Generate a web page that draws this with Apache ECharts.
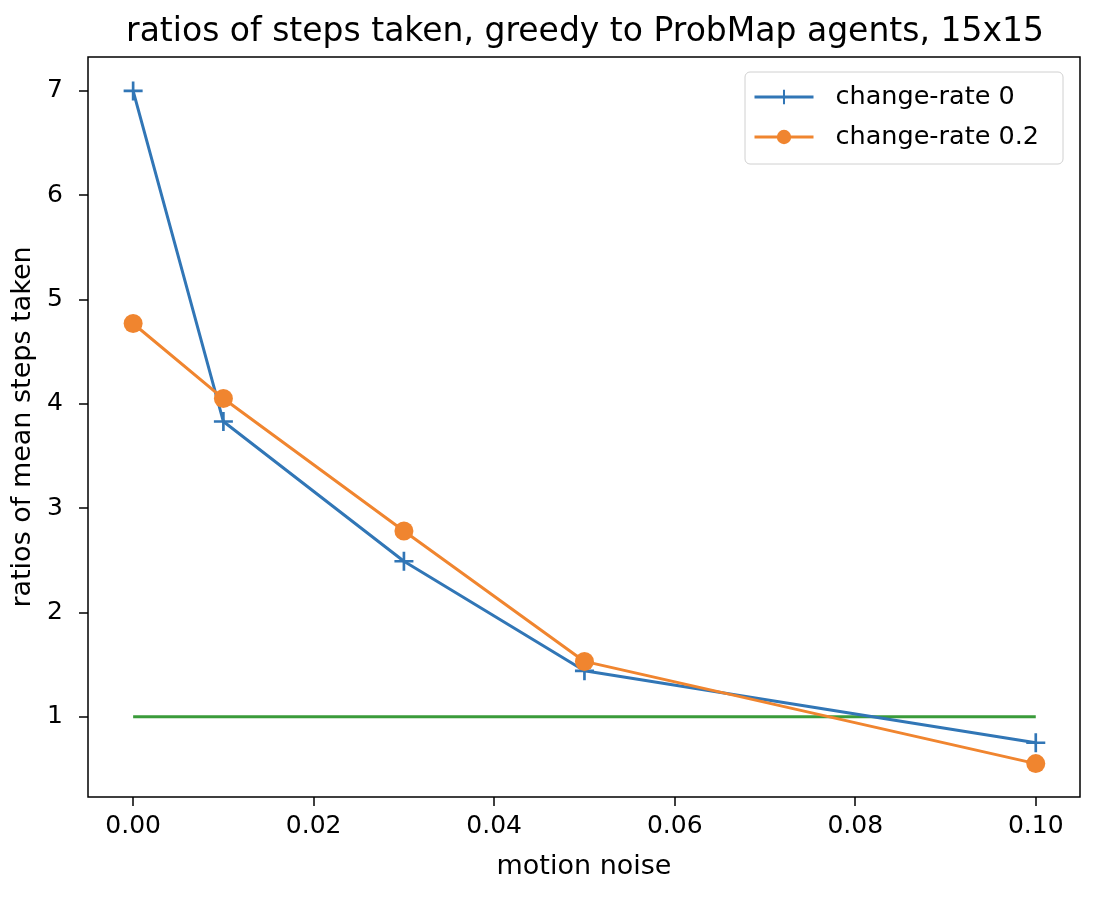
<!DOCTYPE html>
<html>
<head>
<meta charset="utf-8">
<script src="https://cdn.jsdelivr.net/npm/echarts@6/dist/echarts.min.js"></script>
<style>html,body{margin:0;padding:0;background:#fff}#c{width:1096px;height:900px}</style>
</head>
<body>
<div id="c"></div>
<script>
const xValues = [0.00, 0.01, 0.03, 0.05, 0.10];
const rate0 = [7.00, 3.83, 2.49, 1.44, 0.75];
const rate02 = [4.77, 4.05, 2.78, 1.53, 0.55];
const baseline = [1, 1];
const baselineX = [0.00, 0.10];
const xTicks = [0.00, 0.02, 0.04, 0.06, 0.08, 0.10];
const yTicks = [1, 2, 3, 4, 5, 6, 7];

const FONT = 'DejaVu Sans';
const chart = echarts.init(document.getElementById('c'), null, {renderer: 'canvas'});
const plus = 'path://M8.6,0h2.8v20h-2.8z M0,8.6h20v2.8h-20z';
chart.setOption({
  animation: false,
  textStyle: {fontFamily: FONT},
  title: {
    text: 'ratios of steps taken, greedy to ProbMap agents, 15x15',
    left: 580, top: 11, textAlign: 'center',
    textStyle: {fontFamily: FONT, fontSize: 33, fontWeight: 'normal', color: '#000'}
  },
  grid: {left: 88, right: 16, top: 57, bottom: 103, show: true, borderColor: '#000', borderWidth: 1.5, containLabel: false},
  legend: {
    orient: 'vertical', left: 745, top: 72,
    backgroundColor: '#fff', borderColor: '#d0d0d0', borderWidth: 1, borderRadius: 5,
    padding: [12, 24, 14, 8], itemGap: 14, itemWidth: 59, itemHeight: 18,
    lineStyle: {width: 3},
    textStyle: {fontFamily: FONT, fontSize: 25.5, color: '#000', padding: [0, 0, 0, 17]},
    data: ['change-rate 0', 'change-rate 0.2']
  },
  xAxis: {
    type: 'value', min: -0.005, max: 0.1049,
    name: 'motion noise', nameLocation: 'middle', nameGap: 56,
    nameTextStyle: {fontFamily: FONT, fontSize: 27, color: '#000'},
    axisLine: {show: false, onZero: false},
    splitLine: {show: false},
    axisTick: {show: true, length: 9, inside: false, lineStyle: {color: '#000', width: 1.5}, customValues: xTicks},
    axisLabel: {customValues: xTicks, formatter: v => v.toFixed(2), fontFamily: FONT, fontSize: 25, color: '#000', margin: 17}
  },
  yAxis: {
    type: 'value', min: 0.23, max: 7.325,
    name: 'ratios of mean steps taken', nameLocation: 'middle', nameGap: 52, nameRotate: 90,
    nameTextStyle: {fontFamily: FONT, fontSize: 27, color: '#000'},
    axisLine: {show: false, onZero: false},
    splitLine: {show: false},
    axisTick: {show: true, length: 9, inside: false, lineStyle: {color: '#000', width: 1.5}, customValues: yTicks},
    axisLabel: {customValues: yTicks, fontFamily: FONT, fontSize: 25, color: '#000', margin: 25}
  },
  series: [
    {
      name: 'change-rate 0', type: 'line',
      data: xValues.map((x, i) => [x, rate0[i]]),
      color: '#3176b6',
      lineStyle: {width: 3, color: '#3176b6'},
      symbol: plus, symbolSize: 19, showAllSymbol: true,
      itemStyle: {color: '#3176b6'}, z: 3
    },
    {
      name: 'change-rate 0.2', type: 'line',
      data: xValues.map((x, i) => [x, rate02[i]]),
      color: '#f0852f',
      lineStyle: {width: 3, color: '#f0852f'},
      symbol: 'circle', symbolSize: 19, showAllSymbol: true,
      itemStyle: {color: '#f0852f'}, z: 4
    },
    {
      name: 'baseline', type: 'line',
      data: baselineX.map((x, i) => [x, baseline[i]]),
      color: '#3a9b3a',
      lineStyle: {width: 3, color: '#3a9b3a'},
      symbol: 'none', z: 2
    }
  ]
});
</script>
</body>
</html>
